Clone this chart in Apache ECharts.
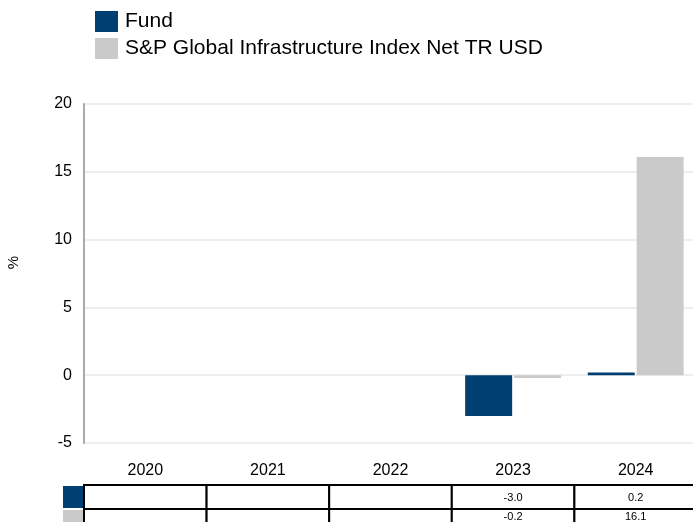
<!DOCTYPE html>
<html><head><meta charset="utf-8">
<script src="https://cdn.jsdelivr.net/npm/echarts@6/dist/echarts.min.js"></script>
<style>html,body{margin:0;padding:0;background:#fff}#c{width:693px;height:522px}</style>
</head><body><div id="c"></div>
<script>
const years = ['2020', '2021', '2022', '2023', '2024'];
const seriesNames = ['Fund', 'S&P Global Infrastructure Index Net TR USD'];
const fundValues = [null, null, null, -3.0, 0.2];
const benchValues = [null, null, null, -0.2, 16.1];
const yTicks = { min: -5, max: 20, interval: 5 };

const colors = ['#003f72', '#cacaca'];
const rows = [fundValues, benchValues];
const tableData = [];
rows.forEach((r, ri) => r.forEach((v, ci) => tableData.push([ci, ri, v])));

const chart = echarts.init(document.getElementById('c'));
const font = 'Liberation Sans, Arial, sans-serif';
chart.setOption({
  animation: false,
  textStyle: { fontFamily: font },
  legend: {
    orient: 'vertical', left: 95, top: 11, padding: 0, itemWidth: 23, itemHeight: 21, itemGap: 6,
    icon: 'rect', textStyle: { fontSize: 21, color: '#000', fontFamily: font, padding: [2, 0, 0, 2] },
    data: seriesNames
  },
  grid: [
    { left: 84, right: -4, top: 104, bottom: 79, outerBoundsMode: 'none', containLabel: false },
    { left: 84, right: -4, top: 485, bottom: 0, outerBoundsMode: 'none', containLabel: false }
  ],
  xAxis: [
    { type: 'category', data: years, gridIndex: 0,
      axisLine: { show: false, onZero: false }, axisTick: { show: false },
      axisLabel: { fontSize: 16, color: '#000', margin: 20 } },
    { type: 'category', data: years, gridIndex: 1, show: false }
  ],
  yAxis: [
    { type: 'value', gridIndex: 0, min: yTicks.min, max: yTicks.max, interval: yTicks.interval,
      name: '%', nameLocation: 'middle', nameGap: 63, nameRotate: 90,
      nameTextStyle: { fontSize: 15, color: '#000', padding: [0, 0, 0, 22] },
      axisLine: { show: true, lineStyle: { color: '#aaaaaa', width: 2 } },
      axisTick: { show: false },
      axisLabel: { fontSize: 16, color: '#000', margin: 12 },
      splitLine: { lineStyle: { color: '#eeeeee', width: 2 } } },
    { type: 'value', gridIndex: 1, min: 0, max: 1.54, inverse: true, show: false, splitLine: { show: false } }
  ],
  series: [
    { name: seriesNames[0], type: 'bar', data: fundValues, itemStyle: { color: colors[0] },
      barWidth: 47, barGap: '4%' },
    { name: seriesNames[1], type: 'bar', data: benchValues, itemStyle: { color: colors[1] },
      barWidth: 47 },
    { type: 'custom', xAxisIndex: 1, yAxisIndex: 1, data: tableData, clip: false,
      encode: { x: 0, y: 1 },
      renderItem: function (params, api) {
        const col = api.value(0), row = api.value(1);
        const top = api.coord([col, row]);
        const bot = api.coord([col, row + 1]);
        const w = api.size([1, 0])[0];
        const x0 = top[0] - w / 2, y0 = top[1], h = bot[1] - top[1];
        const visBottom = Math.min(bot[1], params.coordSys.y + params.coordSys.height);
        const v = api.value(2);
        const children = [{
          type: 'rect', shape: { x: x0, y: y0, width: w, height: h },
          style: { fill: '#fff', stroke: '#000', lineWidth: 2 }
        }];
        if (v !== null && v !== undefined && !isNaN(v)) {
          children.push({ type: 'text', style: {
            x: top[0], y: (y0 + visBottom) / 2 + 1, text: Number(v).toFixed(1), fill: '#000',
            font: '11px ' + font, align: 'center', verticalAlign: 'middle' } });
        }
        if (col === 0) {
          children.push({ type: 'rect',
            shape: { x: x0 - 21, y: y0 + 1, width: 20, height: h - 2 },
            style: { fill: colors[row] } });
        }
        return { type: 'group', children: children };
      }
    }
  ]
});
</script></body></html>
